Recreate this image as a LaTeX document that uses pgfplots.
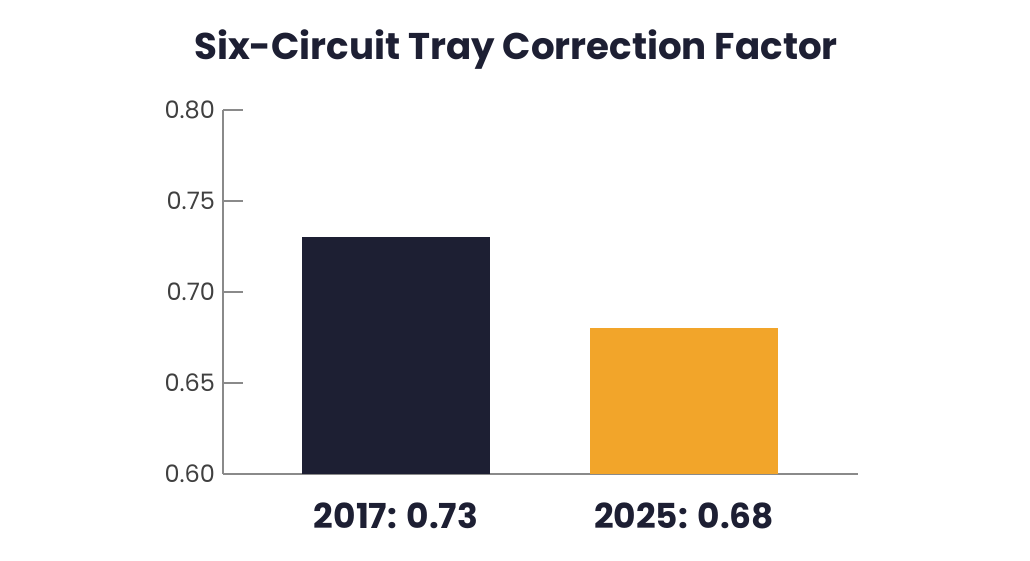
\documentclass[border=0pt]{standalone}
\usepackage{fontspec}
\setmainfont{Poppins}
\usepackage{pgfplots}
\pgfplotsset{compat=1.18}
\definecolor{navy}{HTML}{1D1F33}
\definecolor{amber}{HTML}{F2A52A}
\definecolor{axisgray}{HTML}{8A8A8A}
\begin{document}
\begin{tikzpicture}[x=1pt,y=1pt]
% canvas: 1 px of the reference = 0.5pt
\path[use as bounding box] (-111.5pt,-43.5pt) rectangle (403.5pt,237pt);
\begin{axis}[
    at={(0pt,0pt)}, anchor=south west,
    scale only axis, width=317.5pt, height=182pt,
    ymin=0.60, ymax=0.80,
    xmin=-0.601, xmax=1.604,
    ytick={0.60,0.65,0.70,0.75,0.80},
    yticklabel style={/pgf/number format/fixed,/pgf/number format/fixed zerofill,
        /pgf/number format/precision=2, font=\fontsize{12}{14}\selectfont,
        text=black!75, xshift=-0.5pt},
    /pgf/number format/assume math mode=true,
    xtick={0,1},
    xticklabels={2017: 0.73, 2025: 0.68},
    xticklabel style={font=\fontsize{17.2}{20}\bfseries\selectfont, text=navy, yshift=-1pt},
    axis lines=left,
    axis line style={-, axisgray, line width=0.6pt},
    x axis line style={-},
    ytick style={axisgray, line width=0.6pt},
    xtick style={draw=none},
    tick align=inside,
    major tick length=10pt,
    extra x ticks={1.604},
    extra x tick labels={},
    extra x tick style={tick style={draw=axisgray, line width=0.6pt}, major tick length=4pt},
    ybar, bar width=94pt, bar shift=0pt,
    clip=false,
]
\addplot[fill=navy, draw=none] coordinates {(0,0.73)};
\addplot[fill=amber, draw=none] coordinates {(1,0.68)};
\end{axis}
\node[font=\fontsize{18.6}{22}\bfseries\selectfont, text=navy] at (146.5pt,212pt) {Six-Circuit Tray Correction Factor};
\end{tikzpicture}
\end{document}
